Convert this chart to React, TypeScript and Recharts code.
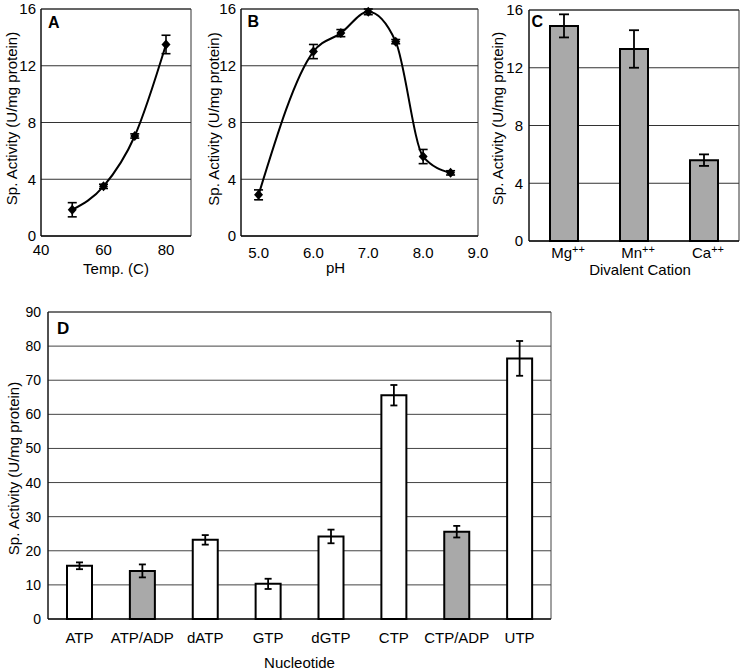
import React from 'react';
import {
  ComposedChart,
  BarChart,
  Line,
  Bar,
  XAxis,
  YAxis,
  CartesianGrid,
  ErrorBar,
  Cell,
  ReferenceArea,
} from 'recharts';

const FONT = '"Liberation Sans", Arial, Helvetica, sans-serif';

// Panel A: temperature
const tempValues = [50, 60, 70, 80];
const tempActivity = [1.85, 3.5, 7.05, 13.5];
const tempError = [0.5, 0.15, 0.15, 0.65];
const tempTicks = [40, 60, 80];

// Panel B: pH
const phValues = [5.0, 6.0, 6.5, 7.0, 7.5, 8.0, 8.5];
const phActivity = [2.9, 13.0, 14.3, 15.8, 13.7, 5.6, 4.45];
const phError = [0.35, 0.5, 0.25, 0.2, 0.15, 0.5, 0.15];
const phTicks = [5, 6, 7, 8, 9];

// Panel C: divalent cation
const cations = ['Mg', 'Mn', 'Ca'];
const cationActivity = [14.9, 13.3, 5.6];
const cationError = [0.8, 1.3, 0.4];

// Panel D: nucleotide
const nucleotides = ['ATP', 'ATP/ADP', 'dATP', 'GTP', 'dGTP', 'CTP', 'CTP/ADP', 'UTP'];
const nucleotideActivity = [15.6, 14.1, 23.2, 10.3, 24.2, 65.6, 25.6, 76.4];
const nucleotideError = [1.0, 1.9, 1.4, 1.5, 2.0, 3.0, 1.7, 5.1];
const nucleotideMixed = [false, true, false, false, false, false, true, false];

const activityTicks = [0, 4, 8, 12, 16];
const nucleotideTicks = [0, 10, 20, 30, 40, 50, 60, 70, 80, 90];

const tempData = tempValues.map((x, i) => ({ x, y: tempActivity[i], err: tempError[i] }));
const phData = phValues.map((x, i) => ({ x, y: phActivity[i], err: phError[i] }));
const cationData = cations.map((name, i) => ({ name, v: cationActivity[i], err: cationError[i] }));
const nucleotideData = nucleotides.map((name, i) => ({
  name,
  v: nucleotideActivity[i],
  err: nucleotideError[i],
  mixed: nucleotideMixed[i],
}));

const GRAY = '#a9a9a9';
const YLABEL = 'Sp. Activity (U/mg protein)';
const tickStyle = { fill: '#000', fontSize: 15 };

const Diamond = (props: any) => {
  const { cx, cy } = props;
  if (cx == null || cy == null) return null;
  return (
    <path
      key={props.index}
      d={`M${cx},${cy - 5}L${cx + 4.5},${cy}L${cx},${cy + 5}L${cx - 4.5},${cy}Z`}
      fill="#000"
    />
  );
};

const CationTick = (props: any) => {
  const { x, y, payload } = props;
  return (
    <text x={x + 4} y={y} textAnchor="middle" fill="#000" fontSize={15}>
      <tspan dy="0.71em">{payload.value}</tspan>
      <tspan dy="-0.45em" fontSize={11}>
        ++
      </tspan>
    </text>
  );
};

export default function App() {
  return (
    <div
      style={{
        position: 'absolute',
        left: 0,
        top: 0,
        width: 740,
        height: 671,
        background: '#fff',
        fontFamily: FONT,
        overflow: 'hidden',
      }}
    >
      {/* Panel A */}
      <div style={{ position: 'absolute', left: 0, top: 0 }}>
        <ComposedChart width={200} height={280} data={tempData} margin={{ top: 9, right: 9, bottom: 0, left: 0 }}>
          <CartesianGrid vertical={false} stroke="#333" />
          <ReferenceArea y1={0} y2={16} fill="none" stroke="#333" strokeWidth={1} ifOverflow="visible" />
          <XAxis
            type="number"
            dataKey="x"
            domain={[40, 88]}
            ticks={tempTicks}
            height={44}
            tickLine={false}
            tickSize={6}
            tickMargin={2}
            axisLine={{ stroke: '#000' }}
            tick={tickStyle}
            label={{ value: 'Temp. (C)', position: 'insideBottom', offset: 6, fill: '#000', fontSize: 15 }}
          />
          <YAxis
            type="number"
            domain={[0, 16]}
            ticks={activityTicks}
            width={41}
            tickLine={false}
            tickSize={3}
            tickMargin={2}
            axisLine={{ stroke: '#000' }}
            tick={tickStyle}
            label={{ value: YLABEL, angle: -90, position: 'center', dx: -9, dy: -4, fill: '#000', fontSize: 15 }}
          />
          <Line
            dataKey="y"
            type="monotone"
            stroke="#000"
            strokeWidth={2}
            dot={(p: any) => <Diamond key={p.index} {...p} />}
            isAnimationActive={false}
          >
            <ErrorBar dataKey="err" width={4.5} stroke="#000" strokeWidth={1.6} direction="y" />
          </Line>
        </ComposedChart>
      </div>

      {/* Panel B */}
      <div style={{ position: 'absolute', left: 195, top: 0 }}>
        <ComposedChart width={300} height={280} data={phData} margin={{ top: 9, right: 17, bottom: 0, left: 0 }}>
          <CartesianGrid vertical={false} stroke="#333" />
          <ReferenceArea y1={0} y2={16} fill="none" stroke="#333" strokeWidth={1} ifOverflow="visible" />
          <XAxis
            type="number"
            dataKey="x"
            domain={[4.68, 9]}
            ticks={phTicks}
            height={44}
            tickLine={false}
            tickSize={9}
            tickMargin={2}
            axisLine={{ stroke: '#000' }}
            tick={tickStyle}
            tickFormatter={(v: number) => v.toFixed(1)}
            label={{ value: 'pH', position: 'insideBottom', offset: 7, dx: -24, fill: '#000', fontSize: 15 }}
          />
          <YAxis
            type="number"
            domain={[0, 16]}
            ticks={activityTicks}
            width={46}
            tickLine={false}
            tickSize={3}
            tickMargin={2}
            axisLine={{ stroke: '#000' }}
            tick={tickStyle}
            label={{ value: YLABEL, angle: -90, position: 'center', dx: -4, dy: -3.5, fill: '#000', fontSize: 15 }}
          />
          <Line
            dataKey="y"
            type="monotone"
            stroke="#000"
            strokeWidth={2}
            dot={(p: any) => <Diamond key={p.index} {...p} />}
            isAnimationActive={false}
          >
            <ErrorBar dataKey="err" width={4.5} stroke="#000" strokeWidth={1.6} direction="y" />
          </Line>
        </ComposedChart>
      </div>

      {/* Panel C */}
      <div style={{ position: 'absolute', left: 485, top: 0 }}>
        <BarChart width={255} height={285} data={cationData} margin={{ top: 10, right: 1, bottom: 0, left: 0 }}>
          <CartesianGrid vertical={false} stroke="#333" />
          <ReferenceArea y1={0} y2={16} fill="none" stroke="#333" strokeWidth={1} ifOverflow="visible" />
          <XAxis
            dataKey="name"
            height={44}
            tickLine={false}
            tickSize={4}
            tickMargin={2}
            axisLine={{ stroke: '#000' }}
            tick={<CationTick />}
            label={{ value: 'Divalent Cation', position: 'insideBottom', offset: 10, dx: 6, fill: '#000', fontSize: 15 }}
          />
          <YAxis
            type="number"
            domain={[0, 16]}
            ticks={activityTicks}
            width={44}
            tickLine={false}
            tickSize={4}
            tickMargin={2}
            axisLine={{ stroke: '#000' }}
            tick={tickStyle}
            label={{ value: YLABEL, angle: -90, position: 'center', dx: -9.5, dy: -7, fill: '#000', fontSize: 15 }}
          />
          <Bar dataKey="v" barSize={28} fill={GRAY} stroke="#000" strokeWidth={2} isAnimationActive={false}>
            <ErrorBar dataKey="err" width={5} stroke="#000" strokeWidth={1.8} direction="y" />
          </Bar>
        </BarChart>
      </div>

      {/* Panel D */}
      <div style={{ position: 'absolute', left: 0, top: 280 }}>
        <BarChart width={560} height={391} data={nucleotideData} margin={{ top: 32, right: 9, bottom: 0, left: 0 }}>
          <CartesianGrid vertical={false} stroke="#444" />
          <ReferenceArea y1={0} y2={90} fill="none" stroke="#444" strokeWidth={1} ifOverflow="visible" />
          <XAxis
            dataKey="name"
            height={52}
            tickLine={false}
            tickSize={11}
            tickMargin={2}
            interval={0}
            axisLine={{ stroke: '#000' }}
            tick={tickStyle}
            label={{ value: 'Nucleotide', position: 'insideBottom', offset: 3, fill: '#000', fontSize: 15 }}
          />
          <YAxis
            type="number"
            domain={[0, 90]}
            ticks={nucleotideTicks}
            width={48}
            tickLine={false}
            tickSize={5}
            tickMargin={2}
            axisLine={{ stroke: '#000' }}
            tick={{ fill: '#000', fontSize: 14 }}
            label={{ value: YLABEL, angle: -90, position: 'center', dx: -10, dy: 3, fill: '#000', fontSize: 15 }}
          />
          <Bar dataKey="v" barSize={25} stroke="#000" strokeWidth={2} isAnimationActive={false}>
            {nucleotideData.map((d, i) => (
              <Cell key={i} fill={d.mixed ? GRAY : '#fff'} />
            ))}
            <ErrorBar dataKey="err" width={3.5} stroke="#000" strokeWidth={1.8} direction="y" />
          </Bar>
        </BarChart>
      </div>

      {/* Panel letters */}
      <svg
        width={740}
        height={671}
        style={{ position: 'absolute', left: 0, top: 0, pointerEvents: 'none' }}
      >
        <text x={48} y={28} fontSize={16} fontWeight="bold" fill="#000">A</text>
        <text x={247.5} y={27} fontSize={16} fontWeight="bold" fill="#000">B</text>
        <text x={531.5} y={27} fontSize={16} fontWeight="bold" fill="#000">C</text>
        <text x={57} y={334} fontSize={17} fontWeight="bold" fill="#000">D</text>
      </svg>
    </div>
  );
}
